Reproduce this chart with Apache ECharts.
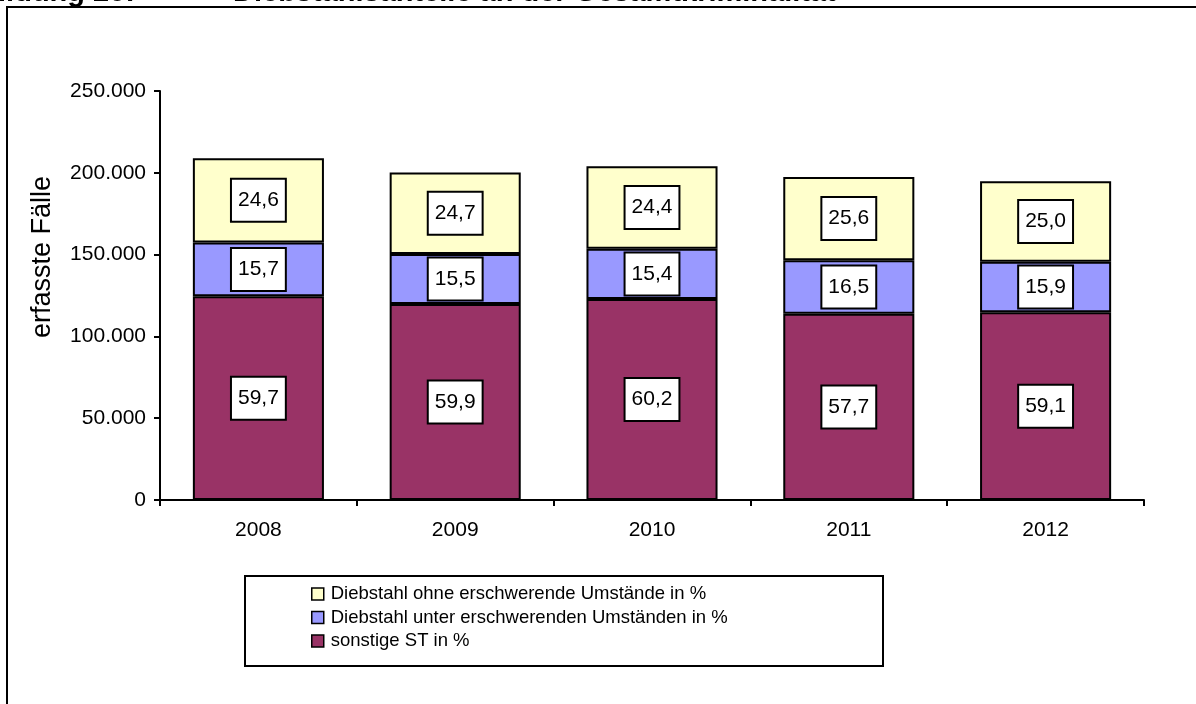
<!DOCTYPE html>
<html>
<head>
<meta charset="utf-8">
<script src="https://cdn.jsdelivr.net/npm/echarts@6/dist/echarts.min.js"></script>
<style>
html,body{margin:0;padding:0;background:#fff;}
#c{width:1196px;height:704px;}
</style>
</head>
<body>
<div id="c"></div>
<script>
const categories = ['2008', '2009', '2010', '2011', '2012'];
const seriesNames = [
  'sonstige ST in %',
  'Diebstahl unter erschwerenden Umständen in %',
  'Diebstahl ohne erschwerende Umstände in %'
];
// estimated absolute case counts (stacked)
const sonstigeST = [124500, 119800, 122800, 113800, 114700];
const unterErschw = [32900, 30500, 30700, 32800, 30900];
const ohneErschw = [51500, 49900, 50500, 50900, 49300];
// percentage labels shown on the bars
const pctSonstige = ['59,7', '59,9', '60,2', '57,7', '59,1'];
const pctUnter = ['15,7', '15,5', '15,4', '16,5', '15,9'];
const pctOhne = ['24,6', '24,7', '24,4', '25,6', '25,0'];
const yTicks = { min: 0, max: 250000, interval: 50000 };
const colors = ['#993366', '#9999FF', '#FFFFCC'];

const FONT = "'Liberation Sans', Arial, sans-serif";

function fmt(v) {
  return String(v).replace(/\B(?=(\d{3})+(?!\d))/g, '.');
}

function mkSeries(name, data, labels, color) {
  return {
    name: name,
    type: 'bar',
    stack: 'total',
    barCategoryGap: '33.4%',
    data: data,
    itemStyle: { color: color, borderColor: '#000', borderWidth: 2 },
    label: {
      show: true,
      position: 'inside',
      formatter: p => labels[p.dataIndex],
      color: '#000',
      fontFamily: FONT,
      fontSize: 21,
      lineHeight: 21,
      backgroundColor: '#fff',
      borderColor: '#000',
      borderWidth: 2,
      padding: [10, 6, 10, 6]
    },
    emphasis: { disabled: true }
  };
}

const chart = echarts.init(document.getElementById('c'), null, { renderer: 'canvas' });
chart.setOption({
  animation: false,
  backgroundColor: '#fff',
  grid: { left: 160, right: 52, top: 91, bottom: 204, containLabel: false },
  xAxis: {
    type: 'category',
    data: categories,
    axisLine: { lineStyle: { color: '#000', width: 2 } },
    axisTick: { show: true, length: 6, interval: 0, lineStyle: { color: '#000', width: 2 } },
    axisLabel: { color: '#000', fontFamily: FONT, fontSize: 21, margin: 20 },
    splitLine: { show: false }
  },
  yAxis: {
    type: 'value',
    min: yTicks.min, max: yTicks.max, interval: yTicks.interval,
    axisLine: { show: true, lineStyle: { color: '#000', width: 2 } },
    axisTick: { show: true, length: 6, lineStyle: { color: '#000', width: 2 } },
    axisLabel: { color: '#000', fontFamily: FONT, fontSize: 21, margin: 14, formatter: fmt },
    splitLine: { show: false }
  },
  legend: {
    orient: 'vertical',
    left: 311,
    top: 584,
    data: [seriesNames[2], seriesNames[1], seriesNames[0]],
    itemWidth: 12,
    itemHeight: 12,
    itemGap: 3.5,
    padding: 0,
    icon: 'rect',
    itemStyle: { borderColor: '#000', borderWidth: 1.5 },
    textStyle: { color: '#000', fontFamily: FONT, fontSize: 18.5, lineHeight: 20, padding: [0, 0, 0, 2] },
    selectedMode: false
  },
  graphic: [
    { type: 'rect', shape: { x: 7, y: 7, width: 1220, height: 720 }, style: { fill: 'none', stroke: '#000', lineWidth: 2 }, z: 100 },
    { type: 'rect', shape: { x: 245, y: 576, width: 638, height: 90 }, style: { fill: 'none', stroke: '#000', lineWidth: 2 }, z: 100 },
    { type: 'text', x: 135, y: -7, style: { text: 'Abbildung 20:', fill: '#000', font: "bold 29px 'Liberation Sans', Arial", textAlign: 'right', textVerticalAlign: 'middle' }, z: 100 },
    { type: 'text', x: 233, y: -7, style: { text: 'Diebstahlsanteile an der Gesamtkriminalität', fill: '#000', font: "bold 29px 'Liberation Sans', Arial", textVerticalAlign: 'middle' }, z: 100 },
    { type: 'text', x: 43, y: 257, rotation: Math.PI / 2, style: { text: 'erfasste Fälle', fill: '#000', font: "27px 'Liberation Sans', Arial", textAlign: 'center', textVerticalAlign: 'middle' }, z: 100 }
  ],
  series: [
    mkSeries(seriesNames[0], sonstigeST, pctSonstige, colors[0]),
    mkSeries(seriesNames[1], unterErschw, pctUnter, colors[1]),
    mkSeries(seriesNames[2], ohneErschw, pctOhne, colors[2])
  ]
});
</script>
</body>
</html>
